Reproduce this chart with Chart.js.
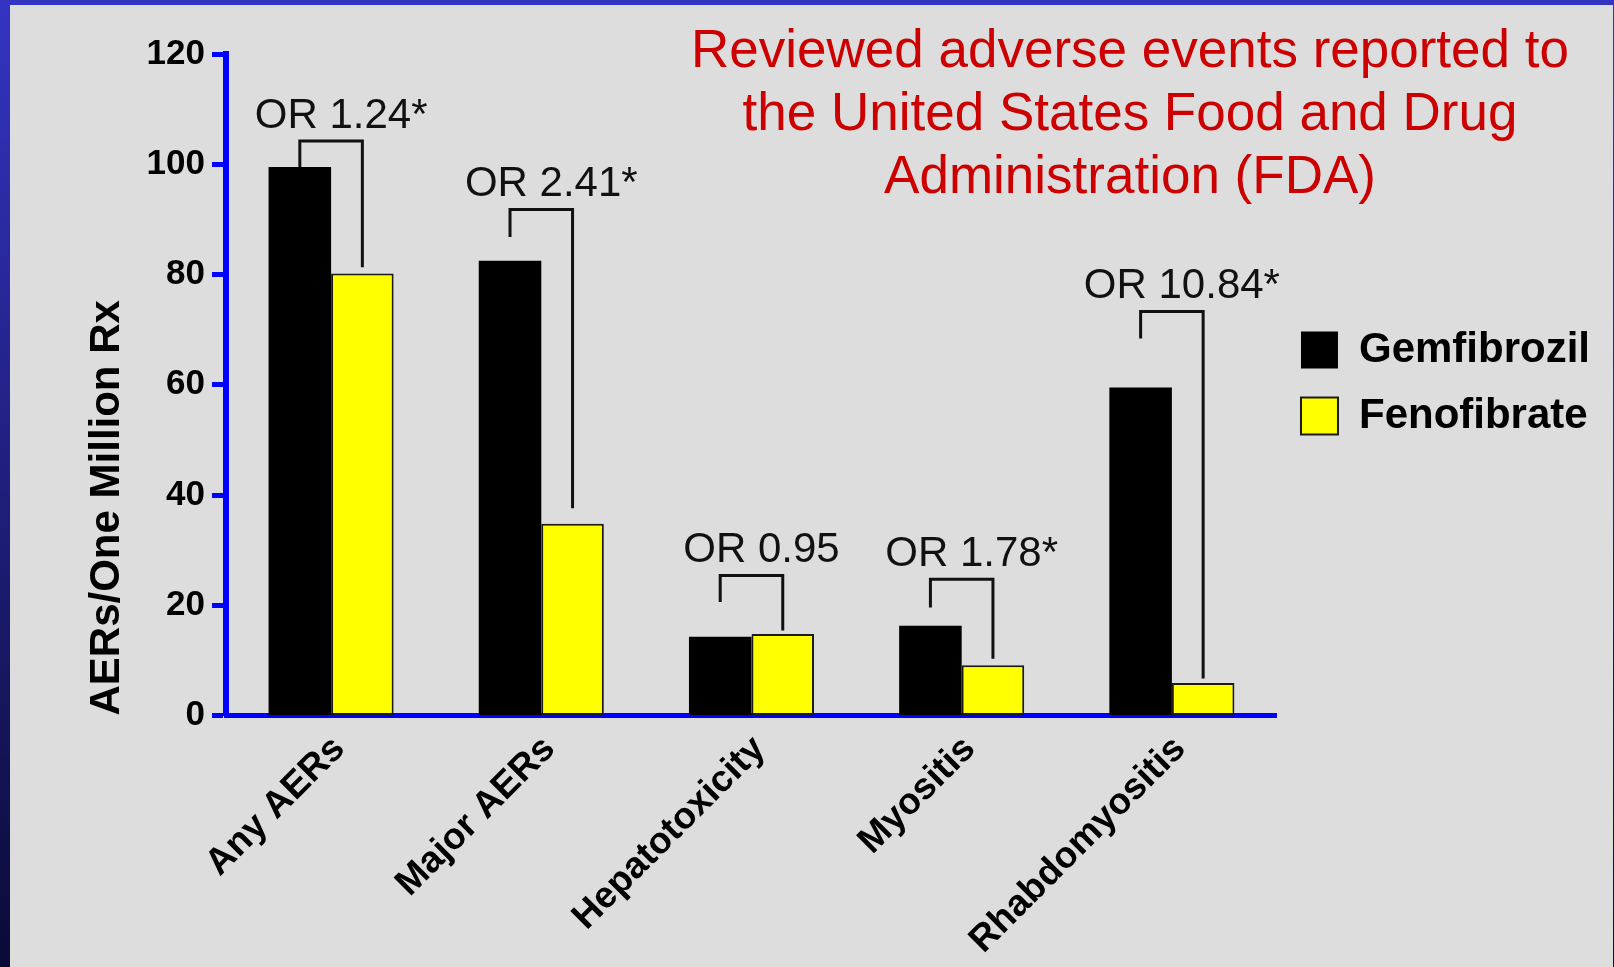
<!DOCTYPE html>
<html>
<head>
<meta charset="utf-8">
<script src="https://cdn.jsdelivr.net/npm/chart.js@4.4.0/dist/chart.umd.min.js"></script>
<style>
  html, body { margin: 0; padding: 0; overflow: hidden; }
  #frame { position: relative; width: 1614px; height: 967px; background: linear-gradient(#3434c2, #0a0a36); }
  #panel { position: absolute; left: 10px; top: 5px; right: 1px; bottom: 0; background: #dddddd; }
  #box { position: absolute; left: 0; top: 0; width: 1614px; height: 967px; }
  #title { position: absolute; left: 630px; top: 17px; width: 1000px; text-align: center;
           font-family: 'Liberation Sans', Arial, sans-serif; font-size: 53px; line-height: 63px; color: #cc0000; }
</style>
</head>
<body>
<div id="frame">
  <div id="panel"></div>
  <div id="box"><canvas id="aerChart"></canvas></div>
  <div id="title">Reviewed adverse events reported to<br>the United States Food and Drug<br>Administration (FDA)</div>
</div>
<script>
// data
const categories = ['Any AERs', 'Major AERs', 'Hepatotoxicity', 'Myositis', 'Rhabdomyositis'];
const gemfibrozil = [99.5, 82.5, 14.3, 16.3, 59.5];
const fenofibrate = [80.2, 34.8, 14.8, 9.1, 5.9];
const yTicks = [0, 20, 40, 60, 80, 100, 120];

// odds ratio brackets (values on the y scale)
const orLabels = ['OR 1.24*', 'OR 2.41*', 'OR 0.95', 'OR 1.78*', 'OR 10.84*'];
const orTop = [104.2, 91.8, 25.4, 24.7, 73.3];
const orLeftEnd = [99.5, 86.8, 20.6, 19.6, 68.4];
const orRightEnd = [81.3, 37.6, 15.4, 10.3, 6.7];

const FONT = "'Liberation Sans', Arial, sans-serif";

// brackets + OR text above each pair of bars
const orBrackets = {
    id: 'orBrackets',
    afterDatasetsDraw(chart) {
        const ctx = chart.ctx;
        const y = chart.scales.y;
        const g = chart.getDatasetMeta(0).data;
        const f = chart.getDatasetMeta(1).data;
        ctx.save();
        ctx.strokeStyle = '#111';
        ctx.lineWidth = 3;
        ctx.fillStyle = '#111';
        ctx.font = '42px ' + FONT;
        ctx.textAlign = 'center';
        ctx.textBaseline = 'alphabetic';
        categories.forEach((c, i) => {
            const lx = g[i].x, rx = f[i].x;
            const top = y.getPixelForValue(orTop[i]);
            ctx.beginPath();
            ctx.moveTo(lx, y.getPixelForValue(orLeftEnd[i]));
            ctx.lineTo(lx, top);
            ctx.lineTo(rx, top);
            ctx.lineTo(rx, y.getPixelForValue(orRightEnd[i]));
            ctx.stroke();
            ctx.fillText(orLabels[i], (lx + rx) / 2 + 10, top - 13);
        });
        ctx.restore();
    }
};

const config = {
    type: 'bar',
    data: {
        labels: categories,
        datasets: [{
            label: 'Gemfibrozil',
            data: gemfibrozil,
            backgroundColor: '#000000',
            borderWidth: 0,
            barPercentage: 1.0,
            categoryPercentage: 0.595
        }, {
            label: 'Fenofibrate',
            data: fenofibrate,
            backgroundColor: '#ffff00',
            borderColor: '#1a1a1a',
            borderWidth: 2,
            borderSkipped: false,
            barPercentage: 1.0,
            categoryPercentage: 0.595
        }]
    },
    options: {
        responsive: true,
        maintainAspectRatio: false,
        animation: false,
        layout: { padding: { top: 54, left: 0, right: 14, bottom: 0 } },
        plugins: {
            tooltip: { enabled: false },
            title: { display: false },
            legend: {
                position: 'right',
                align: 'start',
                title: { display: true, text: '', font: { size: 10, lineHeight: 1 }, padding: { top: 241, bottom: 0 } },
                labels: {
                    boxWidth: 37,
                    boxHeight: 37,
                    padding: 24,
                    color: '#000',
                    font: { family: FONT, size: 42, weight: 'bold' }
                }
            }
        },
        scales: {
            x: {
                afterFit(scale) { scale.height = 251.5; },
                grid: { display: false, drawTicks: false },
                border: { display: true, color: '#0000ff', width: 5 },
                ticks: {
                    color: '#000',
                    maxRotation: 45,
                    minRotation: 45,
                    padding: 12,
                    labelOffset: 8,
                    font: { family: FONT, size: 37, weight: 'bold' }
                }
            },
            y: {
                min: 0,
                max: 120,
                afterFit(scale) { scale.width = 226; },
                afterBuildTicks(scale) { scale.ticks = yTicks.map(v => ({ value: v })); },
                grid: { drawOnChartArea: false, drawTicks: true, tickLength: 14, tickWidth: 5, tickColor: '#0000ff' },
                border: { display: true, color: '#0000ff', width: 6 },
                ticks: {
                    color: '#000',
                    padding: 7,
                    font: { family: FONT, size: 35, weight: 'bold' }
                },
                title: {
                    display: true,
                    text: 'AERs/One Million Rx',
                    align: 'start',
                    color: '#000',
                    padding: { top: 82, bottom: 0 },
                    font: { family: FONT, size: 42, weight: 'bold' }
                }
            }
        }
    },
    plugins: [orBrackets]
};

document.addEventListener('DOMContentLoaded', function () {
    const ctx = document.getElementById('aerChart');
    if (ctx) {
        new Chart(ctx, config);
    }
});
</script>
</body>
</html>
